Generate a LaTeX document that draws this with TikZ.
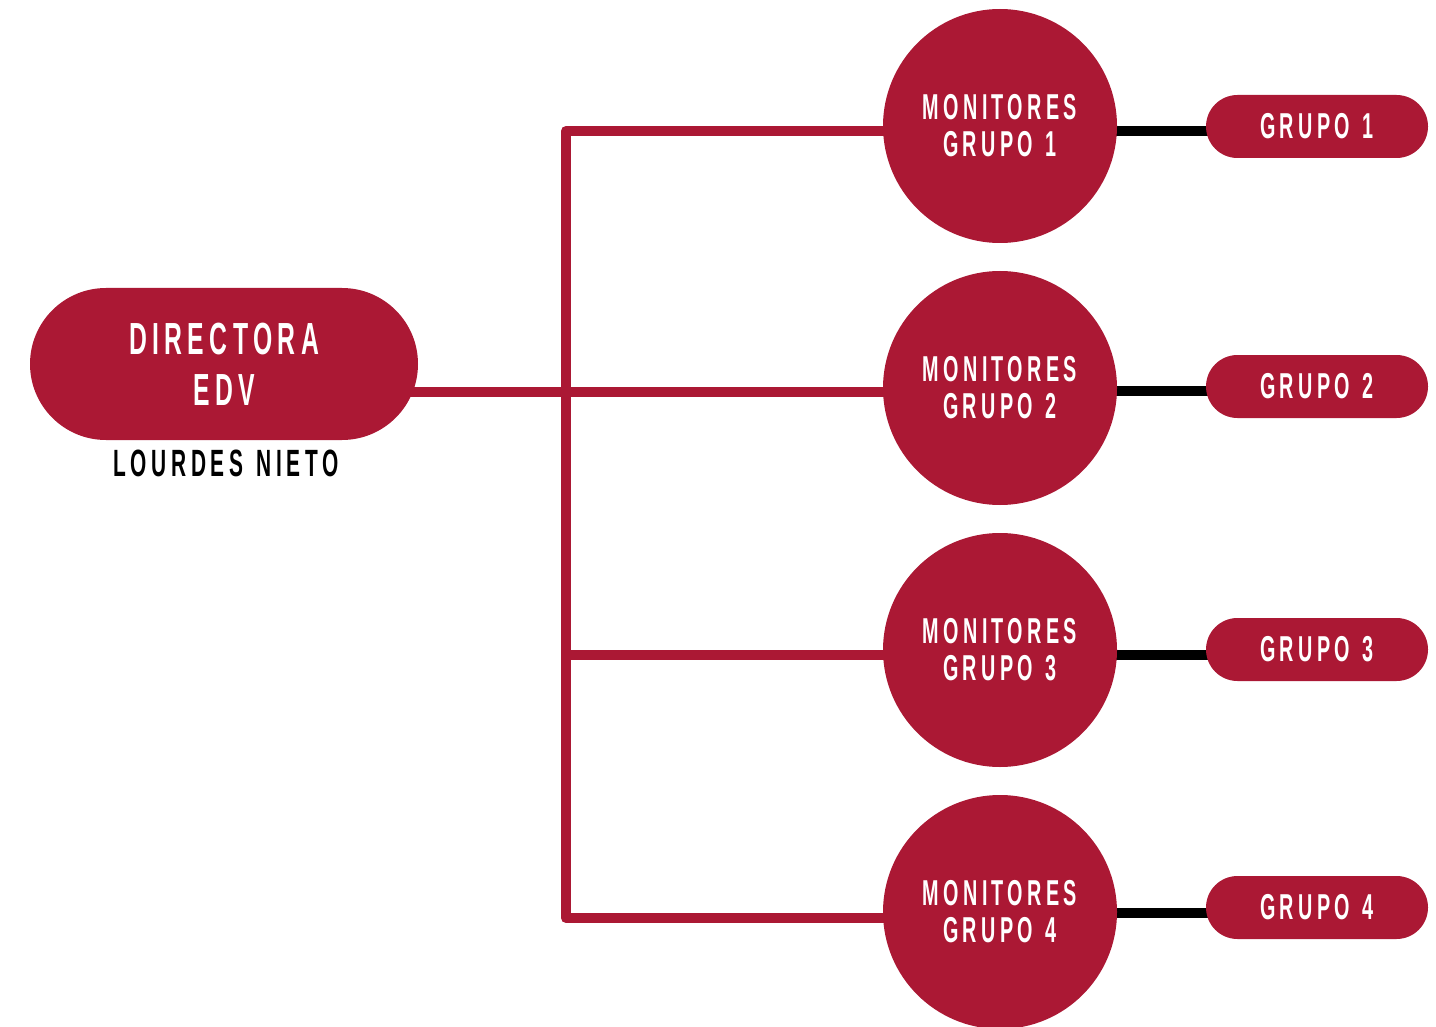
\documentclass[tikz,border=0pt]{standalone}
\usepackage{fontspec}
\usetikzlibrary{backgrounds}
\newfontfamily\dispfont{Liberation Sans}[FakeStretch=0.55, LetterSpace=12, WordSpace=1.3]
\definecolor{crim}{RGB}{171,24,52}
\tikzset{
  pillbig/.style={fill=crim, rounded corners=76pt, minimum width=388pt, minimum height=152pt, inner sep=0pt,
    text=white, align=center, font=\dispfont\bfseries\fontsize{45}{51}\selectfont},
  circnode/.style={circle, fill=crim, minimum size=234pt, inner sep=0pt,
    text=white, align=center, font=\dispfont\bfseries\fontsize{36}{37}\selectfont},
  pillsmall/.style={fill=crim, rounded corners=31.5pt, minimum width=222pt, minimum height=63pt, inner sep=0pt,
    text=white, font=\dispfont\bfseries\fontsize{36}{37}\selectfont},
  namelabel/.style={text=black, inner sep=0pt, font=\dispfont\bfseries\fontsize{38}{40}\selectfont},
  redline/.style={draw=crim, line width=10pt, line join=round},
  blackline/.style={draw=black, line width=10pt}
}
\begin{document}
\begin{tikzpicture}[x=1pt, y=-1pt]
\useasboundingbox (0,0) rectangle (1436,1027);
\node[pillbig] (dir) at (224,364) {DIRECTORA\\EDV};
\node[namelabel] (name) at (226,463.5) {LOURDES NIETO};
\node[circnode] (c1) at (1000,126) {MONITORES\\GRUPO 1};
\node[circnode] (c2) at (1000,388) {MONITORES\\GRUPO 2};
\node[circnode] (c3) at (1000,650) {MONITORES\\GRUPO 3};
\node[circnode] (c4) at (1000,912) {MONITORES\\GRUPO 4};
\node[pillsmall] (g1) at (1317,126.5) {GRUPO 1};
\node[pillsmall] (g2) at (1317,386.5) {GRUPO 2};
\node[pillsmall] (g3) at (1317,649.5) {GRUPO 3};
\node[pillsmall] (g4) at (1317,907.5) {GRUPO 4};
\coordinate (j1) at (566,131);
\coordinate (j2) at (566,392);
\coordinate (j3) at (566,655);
\coordinate (j4) at (566,918);
\coordinate (b1) at (1160,131);
\coordinate (b2) at (1160,391);
\coordinate (b3) at (1160,655);
\coordinate (b4) at (1160,913);
\begin{scope}[on background layer]
  \draw[redline] (c1.center |- j1) -- (j1) -- (j4) -- (c4.center |- j4);
  \draw[redline] (dir.center |- j2) -- (c2.center |- j2);
  \draw[redline] (j3) -- (c3.center |- j3);
  \draw[blackline] (c1.center |- b1) -- (g1.center |- b1);
  \draw[blackline] (c2.center |- b2) -- (g2.center |- b2);
  \draw[blackline] (c3.center |- b3) -- (g3.center |- b3);
  \draw[blackline] (c4.center |- b4) -- (g4.center |- b4);
\end{scope}
\end{tikzpicture}
\end{document}
